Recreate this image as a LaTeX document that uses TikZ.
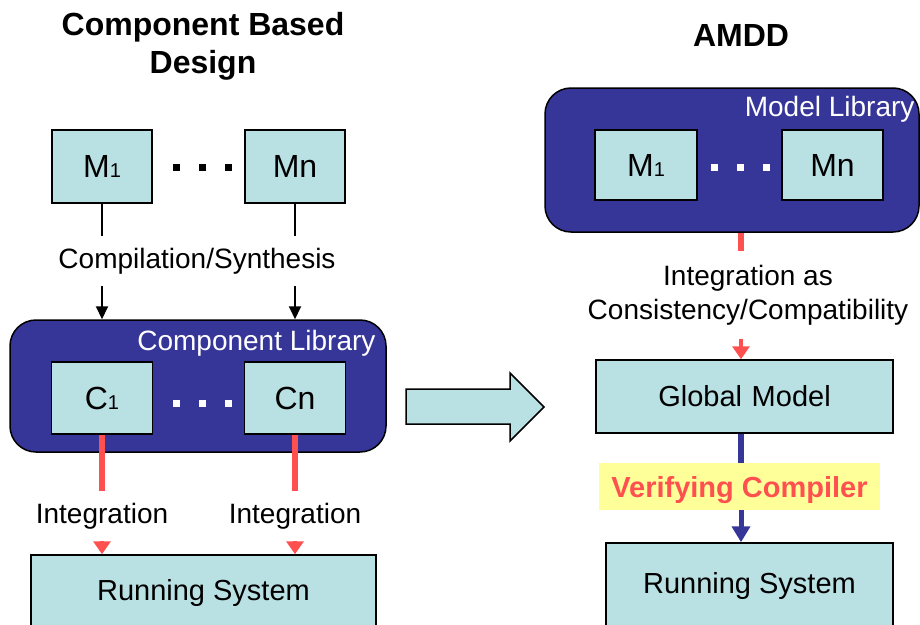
\documentclass[tikz,border=0pt]{standalone}
\usepackage{fontspec}
\setmainfont{Liberation Sans}
\usetikzlibrary{arrows.meta,positioning}
\definecolor{libblue}{HTML}{363699}
\definecolor{boxcyan}{HTML}{B9E0E3}
\definecolor{intred}{HTML}{FF5050}
\definecolor{hiyellow}{HTML}{FFFF99}
\newcommand{\lowidx}[1]{{\fontsize{20}{20}\selectfont#1}}

\begin{document}
\begin{tikzpicture}[x=1pt,y=-1pt,
    every node/.style={font=\fontsize{28}{34}\selectfont},
    titletext/.style={font=\bfseries\fontsize{32}{38}\selectfont,align=center},
    modbox/.style={draw=black,line width=1.5pt,fill=boxcyan,inner sep=0pt,font=\fontsize{29}{34}\selectfont},
    namebox/.style={modbox,font=\fontsize{32}{34}\selectfont},
    libbox/.style={draw=black,line width=1.5pt,fill=libblue,rounded corners=26pt,inner sep=0pt},
    flowlbl/.style={inner xsep=0pt,inner ysep=12pt,align=center},
    blackline/.style={black,line width=2pt},
    redline/.style={intred,line width=6pt},
    blueline/.style={libblue,line width=6pt}]
    \useasboundingbox (0,0) rectangle (920,624);

    % left side: component based design
    \node[titletext] (ltitle) at (203,46) {Component Based\\Design};
    \node[namebox,minimum width=100pt,minimum height=73pt] (m1l) at (102,166.5) {M\lowidx{1}};
    \node[namebox,minimum width=100pt,minimum height=73pt] (mnl) at (295,166.5) {Mn};
    \foreach \dx in {176,202,228} \fill (\dx-3.5,163.5) rectangle (\dx+3.5,170.5);
    \node[flowlbl,anchor=base] (comp) at (197,268) {Compilation/Synthesis};
    \node[libbox,minimum width=376pt,minimum height=132pt] (clib) at (198,386) {};
    \node[anchor=base east,text=white] (clibname) at (379,350) {Component Library};
    \node[namebox,minimum width=101pt,minimum height=72pt] (c1) at (102,398) {C\lowidx{1}};
    \node[namebox,minimum width=101pt,minimum height=72pt] (cn) at (295,398) {Cn};
    \foreach \dx in {176,202,228} \fill[white] (\dx-3.5,400) rectangle (\dx+3.5,407);
    \node[flowlbl,anchor=base] (int1) at (102,523) {Integration};
    \node[flowlbl,anchor=base] (int2) at (295,523) {Integration};
    \node[modbox,minimum width=345pt,minimum height=75pt] (runl) at (203.5,592.5) {Running System};

    \draw[blackline] (m1l.south) -- (m1l.south |- comp.north);
    \draw[blackline] (mnl.south) -- (mnl.south |- comp.north);
    \draw[blackline,-{Triangle[length=13pt,width=12pt]}] (m1l.south |- comp.south) -- (m1l.south |- clib.north);
    \draw[blackline,-{Triangle[length=13pt,width=12pt]}] (mnl.south |- comp.south) -- (mnl.south |- clib.north);
    \draw[redline] (c1.south) -- (int1.north);
    \draw[redline] (cn.south) -- (int2.north);
    \draw[redline,line width=4pt,-{Triangle[length=13pt,width=17pt]}] (int1.south) -- (int1.south |- runl.north);
    \draw[redline,line width=4pt,-{Triangle[length=13pt,width=17pt]}] (int2.south) -- (int2.south |- runl.north);

    % middle arrow
    \draw[fill=boxcyan,line width=1.5pt] (406,389) -- (510,389) -- (510,373) -- (544,407)
        -- (510,441) -- (510,424) -- (406,424) -- cycle;

    % right side: AMDD
    \node[titletext] (rtitle) at (741,35) {AMDD};
    \node[libbox,minimum width=374pt,minimum height=144pt] (mlib) at (732,160) {};
    \node[anchor=base east,text=white] (mlibname) at (918,116) {Model Library};
    \node[namebox,minimum width=102pt,minimum height=70pt] (m1r) at (646,165) {M\lowidx{1}};
    \node[namebox,minimum width=101pt,minimum height=70pt] (mnr) at (832.5,165) {Mn};
    \foreach \dx in {714,740,766} \fill[white] (\dx-3.5,164) rectangle (\dx+3.5,171);
    \node[flowlbl,anchor=base,inner ysep=14pt] (cons) at (748,319) {Integration as\\Consistency/Compatibility};
    \node[modbox,minimum width=297pt,minimum height=73pt,text width=283pt,align=center,
        xshift=-3pt] (glob) at (747.5,396.5) {Global Model};
    \node[fill=hiyellow,minimum width=281pt,minimum height=47pt,inner sep=0pt,text depth=0pt,text=intred,
        font=\bfseries\fontsize{29}{34}\selectfont] (vcomp) at (739.5,486.5) {Verifying Compiler};
    \node[modbox,minimum width=287pt,minimum height=86pt] (runr) at (749.5,586) {Running System};

    \draw[redline] (mlib.south -| 741,0) -- (741,0 |- cons.north);
    \draw[redline,line width=4pt,-{Triangle[length=13pt,width=17pt]}] (cons.south -| 741,0) -- (741,0 |- glob.north);
    \draw[blueline] (glob.south -| 741,0) -- (741,0 |- vcomp.north);
    \draw[blueline,line width=5pt,-{Triangle[length=16pt,width=18pt]}] (vcomp.south -| 741,0) -- (741,0 |- runr.north);
\end{tikzpicture}
\end{document}
